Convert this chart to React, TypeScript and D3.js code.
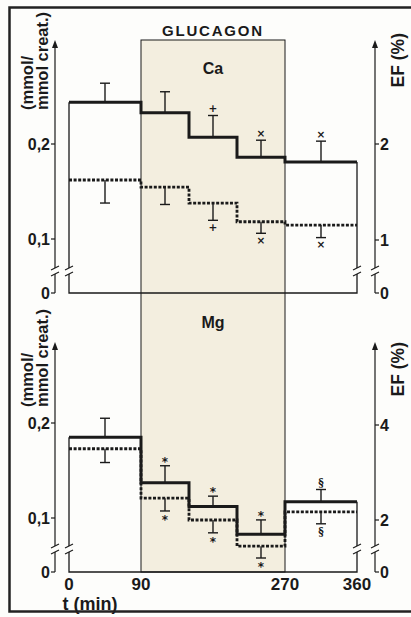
import React, { useEffect, useRef } from 'react';
import * as d3 from 'd3';

// time periods (min) – control 0–90, glucagon 90–270, recovery 270–360
const PERIOD_EDGES = [0, 90, 150, 210, 270, 360];
const X_TICKS = [0, 90, 270, 360];

// Ca: excretion (mmol/mmol creat., solid) and fractional excretion (%, dashed)
const CA_EXCR = [0.244, 0.233, 0.207, 0.186, 0.181];
const CA_EXCR_SEM = [0.02, 0.022, 0.023, 0.018, 0.022];
const CA_EF = [1.625, 1.55, 1.385, 1.19, 1.155];
const CA_EF_SEM = [0.24, 0.18, 0.18, 0.12, 0.13];
const CA_SIG = ['', '', '+', '×', '×'];

// Mg
const MG_EXCR = [0.185, 0.137, 0.112, 0.083, 0.117];
const MG_EXCR_SEM = [0.02, 0.018, 0.011, 0.015, 0.013];
const MG_EF = [3.5, 2.46, 2.0, 1.45, 2.17];
const MG_EF_SEM = [0.29, 0.27, 0.27, 0.25, 0.25];
const MG_SIG = ['', '*', '*', '*', '§'];

const CA_LEFT_TICKS = [0.1, 0.2];
const CA_RIGHT_TICKS = [1, 2];
const MG_LEFT_TICKS = [0.1, 0.2];
const MG_RIGHT_TICKS = [2, 4];

const FONT = '"Liberation Sans", Arial, Helvetica, sans-serif';
const INK = '#1a1a1a';

export default function App() {
    const svgRef = useRef<SVGSVGElement>(null);

    useEffect(() => {
        if (!svgRef.current) return;
        const svg = d3.select(svgRef.current);
        svg.selectAll('*').remove();

        const width = 411;
        const height = 617;
        const axL = 55;
        const axR = 375;

        const x = d3.scaleLinear().domain([0, 360]).range([69, 357]);

        svg.append('rect').attr('width', width).attr('height', height).attr('fill', '#fdfdfb');

        // glucagon infusion band, across both panels
        svg.append('rect')
            .attr('x', x(90)).attr('y', 40)
            .attr('width', x(270) - x(90)).attr('height', 572 - 40)
            .attr('fill', '#f3eedf')
            .attr('stroke', INK).attr('stroke-width', 1);

        svg.append('text')
            .attr('x', (x(90) + x(270)) / 2).attr('y', 36)
            .attr('text-anchor', 'middle')
            .style('font-family', FONT).style('font-size', '15px').style('font-weight', 'bold')
            .style('letter-spacing', '1.8px')
            .attr('fill', INK)
            .text('GLUCAGON');

        const panels = [
            {
                name: 'Ca', nameY: 74, yTop: 40, yZero: 293, yBreak: 271,
                left: d3.scaleLinear().domain([0.1, 0.2]).range([239, 144]),
                right: d3.scaleLinear().domain([1, 2]).range([240, 144]),
                leftTicks: CA_LEFT_TICKS, rightTicks: CA_RIGHT_TICKS,
                solid: CA_EXCR, solidSem: CA_EXCR_SEM, dashed: CA_EF, dashedSem: CA_EF_SEM,
                sig: CA_SIG, labelStart: 110, efEnd: 33,
            },
            {
                name: 'Mg', nameY: 328, yTop: 342, yZero: 572, yBreak: 549,
                left: d3.scaleLinear().domain([0.1, 0.2]).range([518, 423]),
                right: d3.scaleLinear().domain([2, 4]).range([520, 425]),
                leftTicks: MG_LEFT_TICKS, rightTicks: MG_RIGHT_TICKS,
                solid: MG_EXCR, solidSem: MG_EXCR_SEM, dashed: MG_EF, dashedSem: MG_EF_SEM,
                sig: MG_SIG, labelStart: 407, efEnd: 342,
            },
        ];

        const fmt = (v: number) => String(v).replace('.', ',');

        const drawBreak = (g: any, cx: number, cy: number) => {
            g.append('rect').attr('x', cx - 3).attr('y', cy - 3).attr('width', 6).attr('height', 6)
                .attr('fill', '#fdfdfb');
            [-3, 3].forEach(o => {
                g.append('line')
                    .attr('x1', cx - 4).attr('y1', cy + o + 2)
                    .attr('x2', cx + 4).attr('y2', cy + o - 2)
                    .attr('stroke', INK).attr('stroke-width', 1.1);
            });
        };

        panels.forEach(p => {
            const g = svg.append('g');
            const centers = PERIOD_EDGES.slice(0, -1).map((t, i) => (t + PERIOD_EDGES[i + 1]) / 2);

            // panel title
            g.append('text')
                .attr('x', (x(90) + x(270)) / 2).attr('y', p.nameY)
                .attr('text-anchor', 'middle')
                .style('font-family', FONT).style('font-size', '16px').style('font-weight', 'bold')
                .attr('fill', INK)
                .text(p.name);

            // left axis
            g.append('line')
                .attr('x1', axL).attr('x2', axL).attr('y1', p.yTop + 4).attr('y2', p.yZero)
                .attr('stroke', INK).attr('stroke-width', 1.2);
            g.append('path')
                .attr('d', `M${axL},${p.yTop} l-3,8 l6,0 z`).attr('fill', INK);
            const lt = [...p.leftTicks.map(v => ({ y: p.left(v), t: fmt(v) })), { y: p.yZero, t: '0' }];
            lt.forEach(d => {
                g.append('line').attr('x1', axL - 4).attr('x2', axL).attr('y1', d.y).attr('y2', d.y)
                    .attr('stroke', INK).attr('stroke-width', 1.2);
                g.append('text')
                    .attr('x', axL - 5).attr('y', d.y).attr('dy', '0.36em')
                    .attr('text-anchor', 'end')
                    .style('font-family', FONT).style('font-size', '16px').style('font-weight', 'bold')
                    .attr('fill', INK)
                    .text(d.t);
            });

            // right axis
            g.append('line')
                .attr('x1', axR).attr('x2', axR).attr('y1', p.yTop + 4).attr('y2', p.yZero)
                .attr('stroke', INK).attr('stroke-width', 1.2);
            g.append('path')
                .attr('d', `M${axR},${p.yTop} l-3,8 l6,0 z`).attr('fill', INK);
            const rt = [...p.rightTicks.map(v => ({ y: p.right(v), t: String(v) })), { y: p.yZero, t: '0' }];
            rt.forEach(d => {
                g.append('line').attr('x1', axR).attr('x2', axR + 4).attr('y1', d.y).attr('y2', d.y)
                    .attr('stroke', INK).attr('stroke-width', 1.2);
                g.append('text')
                    .attr('x', axR + 5).attr('y', d.y).attr('dy', '0.36em')
                    .style('font-family', FONT).style('font-size', '16px').style('font-weight', 'bold')
                    .attr('fill', INK)
                    .text(d.t);
            });

            // axis titles
            const yl = g.append('text')
                .attr('transform', `translate(33,${p.labelStart}) rotate(-90)`)
                .style('font-family', FONT).style('font-size', '16.5px').style('font-weight', 'bold')
                .attr('fill', INK);
            yl.append('tspan').attr('x', 0).attr('y', 0).text('(mmol/');
            yl.append('tspan').attr('x', 0).attr('y', 14.5).text('mmol creat.)');

            g.append('text')
                .attr('transform', `translate(404,${p.efEnd}) rotate(-90)`)
                .attr('text-anchor', 'end')
                .style('font-family', FONT).style('font-size', '17.5px').style('font-weight', 'bold')
                .attr('fill', INK)
                .text('EF (%)');

            // baseline box
            const last = p.solid.length - 1;
            g.append('path')
                .attr('d', `M${x(0)},${p.left(p.solid[0])} V${p.yZero} H${x(360)} V${p.left(p.solid[last])}`)
                .attr('fill', 'none').attr('stroke', INK).attr('stroke-width', 1.3);

            // axis breaks
            [axL, x(0), x(360), axR].forEach(cx => drawBreak(g, cx, p.yBreak));

            // error bars – excretion (up) and EF (down)
            const bar = (cxv: number, y0: number, y1: number) => {
                g.append('line').attr('x1', cxv).attr('x2', cxv).attr('y1', y0).attr('y2', y1)
                    .attr('stroke', INK).attr('stroke-width', 1.4);
                g.append('line').attr('x1', cxv - 5).attr('x2', cxv + 5).attr('y1', y1).attr('y2', y1)
                    .attr('stroke', INK).attr('stroke-width', 1.4);
            };
            const sigText = (cxv: number, yy: number, s: string) => {
                if (!s) return;
                g.append('text')
                    .attr('x', cxv).attr('y', yy).attr('dy', '0.36em')
                    .attr('text-anchor', 'middle')
                    .style('font-family', s === '§' ? '"DejaVu Serif", serif' : '"DejaVu Sans", sans-serif')
                    .style('font-size', s === '*' ? '12px' : '10.5px')
                    .style('font-weight', 'bold')
                    .attr('fill', INK)
                    .text(s);
            };
            centers.forEach((c, i) => {
                const top = p.left(p.solid[i] + p.solidSem[i]);
                bar(x(c), p.left(p.solid[i]), top);
                sigText(x(c), top - (p.sig[i] === '*' ? 4 : 7), p.sig[i]);
                const bot = p.right(p.dashed[i] - p.dashedSem[i]);
                bar(x(c), p.right(p.dashed[i]), bot);
                sigText(x(c), bot + (p.sig[i] === '*' ? 9 : 7), p.sig[i]);
            });

            // step lines
            const stepPts = (vals: number[]) => [
                ...vals.map((v, i) => [PERIOD_EDGES[i], v] as [number, number]),
                [360, vals[vals.length - 1]] as [number, number],
            ];
            const solidLine = d3.line<[number, number]>()
                .x(d => x(d[0])).y(d => p.left(d[1])).curve(d3.curveStepAfter);
            const dashedLine = d3.line<[number, number]>()
                .x(d => x(d[0])).y(d => p.right(d[1])).curve(d3.curveStepAfter);

            g.append('path')
                .attr('d', dashedLine(stepPts(p.dashed)))
                .attr('fill', 'none').attr('stroke', INK).attr('stroke-width', 2.8)
                .attr('stroke-dasharray', '3,1.6');
            g.append('path')
                .attr('d', solidLine(stepPts(p.solid)))
                .attr('fill', 'none').attr('stroke', INK).attr('stroke-width', 3)
                .attr('stroke-linejoin', 'miter');
        });

        // x axis labels
        X_TICKS.forEach(t => {
            svg.append('text')
                .attr('x', x(t)).attr('y', 590)
                .attr('text-anchor', 'middle')
                .style('font-family', FONT).style('font-size', '17px').style('font-weight', 'bold')
                .attr('fill', INK)
                .text(String(t));
        });
        svg.append('text')
            .attr('x', 90).attr('y', 610)
            .attr('text-anchor', 'middle')
            .style('font-family', FONT).style('font-size', '18px').style('font-weight', 'bold')
            .attr('fill', INK)
            .text('t (min)');

        // outer frame
        svg.append('rect')
            .attr('x', 9.5).attr('y', 7.5).attr('width', 420).attr('height', 604)
            .attr('fill', 'none').attr('stroke', '#222').attr('stroke-width', 2.5);
    }, []);

    return (
        <svg
            ref={svgRef}
            width={411}
            height={617}
            viewBox="0 0 411 617"
            style={{ position: 'absolute', left: 0, top: 0, display: 'block' }}
        />
    );
}
